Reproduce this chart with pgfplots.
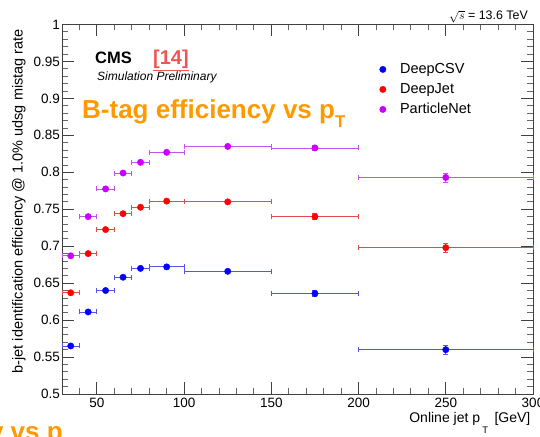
\documentclass[border=0pt]{standalone}
\usepackage{pgfplots}
\pgfplotsset{compat=1.18}
\usepackage{pgfplotstable}
\usepackage{fontspec}
\setmainfont{Liberation Sans}

\definecolor{csvblue}{RGB}{0,0,255}
\definecolor{csvline}{RGB}{85,85,235}
\definecolor{jetred}{RGB}{255,0,0}
\definecolor{jetline}{RGB}{225,75,75}
\definecolor{pnetpurple}{RGB}{200,0,255}
\definecolor{pnetline}{RGB}{195,85,230}
\definecolor{titleorange}{RGB}{255,153,0}
\definecolor{refred}{RGB}{240,85,85}

\pgfplotstableread{
x y ex ey
35 0.565 5 0.002
45 0.611 5 0.0015
55 0.640 5 0.0015
65 0.658 5 0.0015
75 0.670 5 0.0015
90 0.672 10 0.0015
125 0.666 25 0.002
175 0.636 25 0.004
250 0.560 50 0.006
}\deepcsv

\pgfplotstableread{
x y ex ey
35 0.637 5 0.002
45 0.690 5 0.0015
55 0.7225 5 0.0015
65 0.744 5 0.0015
75 0.7527 5 0.0015
90 0.761 10 0.0015
125 0.760 25 0.002
175 0.740 25 0.004
250 0.698 50 0.006
}\deepjet

\pgfplotstableread{
x y ex ey
35 0.687 5 0.002
45 0.740 5 0.0015
55 0.7775 5 0.0015
65 0.799 5 0.0015
75 0.8135 5 0.0015
90 0.827 10 0.0015
125 0.835 25 0.002
175 0.833 25 0.004
250 0.793 50 0.006
}\pnet

\begin{document}
\begin{tikzpicture}
\path[use as bounding box] (0,0) rectangle (540pt,436pt);
\begin{axis}[
  at={(62pt,42pt)}, anchor=south west,
  scale only axis, width=471pt, height=369.5pt,
  xmin=30, xmax=300, ymin=0.5, ymax=1,
  xtick={50,100,150,200,250,300},
  minor xtick={40,50,...,300},
  ytick={0.5,0.55,0.6,0.65,0.7,0.75,0.8,0.85,0.9,0.95,1},
  minor y tick num=4,
  major tick length=12pt, minor tick length=6pt,
  axis line style={black!75, line width=0.8pt},
  every tick/.style={black!75, line width=0.8pt},
  every minor tick/.style={black!60, line width=0.8pt},
  tick label style={font=\fontsize{13.5}{13.5}\selectfont},
  /pgf/number format/assume math mode=true,
  yticklabel style={inner sep=0pt, xshift=-2pt},
  xticklabel style={inner sep=0pt, yshift=-4pt},
  legend style={at={(0.674,0.9026)}, anchor=north west, draw=none, fill=none,
    font=\fontsize{14.5}{14.5}\selectfont, row sep=2.5pt, inner sep=0pt,
    nodes={inner sep=2pt, text height=10.5pt, text depth=3pt, anchor=west},
    /tikz/every odd column/.append style={column sep=12pt}},
  legend cell align=left,
  clip=false,
  error bars/error mark options={rotate=90, mark size=2.5pt, line width=0.8pt},
]
\addplot[only marks, mark=*, mark size=3.2pt, color=csvblue,
  error bars/.cd, x dir=both, x explicit, y dir=both, y explicit,
  error bar style={line width=0.8pt, color=csvline},
  error mark options={rotate=90, mark size=2.5pt, line width=0.8pt, color=csvline}]
  table[x=x, y=y, x error=ex, y error=ey] {\deepcsv};
\addlegendentry{DeepCSV}
\addplot[only marks, mark=*, mark size=3.2pt, color=jetred,
  error bars/.cd, x dir=both, x explicit, y dir=both, y explicit,
  error bar style={line width=0.8pt, color=jetline},
  error mark options={rotate=90, mark size=2.5pt, line width=0.8pt, color=jetline}]
  table[x=x, y=y, x error=ex, y error=ey] {\deepjet};
\addlegendentry{DeepJet}
\addplot[only marks, mark=*, mark size=3.2pt, color=pnetpurple,
  error bars/.cd, x dir=both, x explicit, y dir=both, y explicit,
  error bar style={line width=0.8pt, color=pnetline},
  error mark options={rotate=90, mark size=2.5pt, line width=0.8pt, color=pnetline}]
  table[x=x, y=y, x error=ex, y error=ey] {\pnet};
\addlegendentry{ParticleNet}
\end{axis}
\node[anchor=base west, font=\fontsize{16.5}{16.5}\selectfont\bfseries, inner sep=0pt] at (95pt,372pt) {CMS};
\node[anchor=base west, font=\fontsize{20}{20}\selectfont\bfseries, text=refred, inner sep=0pt] at (153pt,371pt) {\underline{[14]}};
\node[anchor=base west, font=\fontsize{12}{12}\selectfont\itshape, inner sep=0pt] at (97pt,355pt) {Simulation Preliminary};
\node[anchor=base west, font=\fontsize{26}{26}\selectfont\bfseries, text=titleorange, inner sep=0pt] at (82pt,317pt) {B-tag efficiency vs p\raisebox{-9pt}{\fontsize{17}{17}\selectfont T}};
\node[anchor=base east, font=\fontsize{26}{26}\selectfont\bfseries, text=titleorange, inner sep=0pt] at (63pt,-4.5pt) {B-tag efficiency vs p};
\node[anchor=base east, font=\fontsize{12.4}{12.4}\selectfont, inner sep=0pt] at (528pt,416pt) {$\sqrt{s}$ = 13.6 TeV};
\node[anchor=base east, font=\fontsize{14}{14}\selectfont, inner sep=0pt] at (530.5pt,13.3pt) {Online jet p\,\raisebox{-11pt}{\fontsize{9.5}{9.5}\selectfont T}\, [GeV]};
\node[rotate=90, anchor=mid east, font=\fontsize{14.5}{14.5}\selectfont, inner sep=0pt] at (20pt,407pt) {b-jet identification efficiency @ 1.0\% udsg mistag rate};
\end{tikzpicture}
\end{document}
